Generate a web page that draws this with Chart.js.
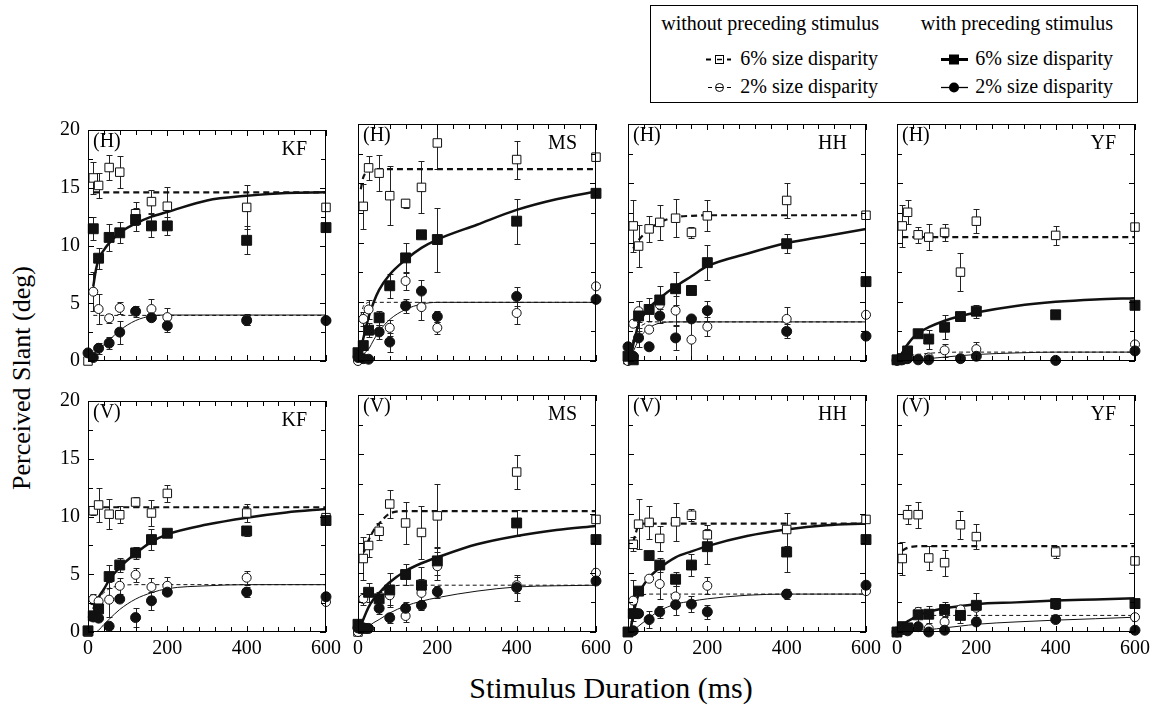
<!DOCTYPE html>
<html><head><meta charset="utf-8">
<script src="https://cdn.jsdelivr.net/npm/chart.js@4.4.1/dist/chart.umd.min.js"></script>
<style>
html,body{margin:0;padding:0;background:#fff;}
body{position:relative;width:1153px;height:706px;overflow:hidden;font-family:"Liberation Serif","Times New Roman",serif;color:#000;}
.t{position:absolute;white-space:nowrap;font-size:20px;line-height:20px;}
canvas{position:absolute;}
</style></head>
<body>
<div style="position:absolute;left:650px;top:5px;width:486px;height:96px;border:1px solid #000;"></div>
<div class="t" style="right:274px;top:13px;">without preceding stimulus</div>
<div class="t" style="right:40px;top:13px;">with preceding stimulus</div>
<div class="t" style="right:275px;top:48px;">6% size disparity</div>
<div class="t" style="right:40px;top:48px;">6% size disparity</div>
<div class="t" style="right:275px;top:76px;">2% size disparity</div>
<div class="t" style="right:40px;top:76px;">2% size disparity</div>
<svg style="position:absolute;left:0;top:0" width="1153" height="110">
  <g stroke="#000" fill="none">
    <line x1="706" y1="59.5" x2="711" y2="59.5" stroke-width="2"/>
    <rect x="715.5" y="55.5" width="8" height="8" stroke-width="1" fill="#fff"/>
    <line x1="717" y1="59.5" x2="722" y2="59.5" stroke-width="1.5"/>
    <line x1="727" y1="59.5" x2="731" y2="59.5" stroke-width="2"/>
    <line x1="708" y1="87.5" x2="712" y2="87.5" stroke-width="1"/>
    <circle cx="719.5" cy="87.5" r="4" stroke-width="1" fill="#fff"/>
    <line x1="716" y1="87.5" x2="723" y2="87.5" stroke-width="1"/>
    <line x1="727" y1="87.5" x2="731" y2="87.5" stroke-width="1"/>
    <line x1="941" y1="59.5" x2="968" y2="59.5" stroke-width="3"/>
    <rect x="949" y="54.5" width="10" height="10" fill="#000" stroke="none"/>
    <line x1="941" y1="87.5" x2="968" y2="87.5" stroke-width="1.3"/>
    <circle cx="954" cy="87.5" r="5" fill="#000" stroke="none"/>
  </g>
</svg>
<div class="t" style="font-size:30px;line-height:30px;left:411px;width:400px;text-align:center;top:673px;">Stimulus Duration (ms)</div>
<div class="t" style="font-size:26px;line-height:26px;left:-128px;width:300px;text-align:center;top:365px;transform:rotate(-90deg);transform-origin:50% 50%;">Perceived Slant (deg)</div>

<script>
// ---------- data ----------
const durations = [0, 13.3, 26.7, 53.3, 80, 120, 160, 200, 400, 600];
const fitDurations = [0, 7, 13.3, 20, 26.7, 40, 53.3, 80, 120, 160, 200, 300, 400, 500, 600];
const xTicks = [0, 200, 400, 600];
const yTicks = [0, 5, 10, 15, 20];
const subjects = ['KF', 'MS', 'HH', 'YF'];
const orientations = ['(H)', '(V)'];

// (H) KF
const H_KF_sqOpen = [0, 15.85, 15.2, 16.75, 16.35, 12.75, 13.8, 13.4, 13.3, 13.3];
const H_KF_sqOpenErr = [0, 1.4, 1.1, 1.1, 1.4, 1.0, 1.0, 1.7, 1.9, 0.3];
const H_KF_ciOpen = [null, 6.0, 4.5, 3.7, 4.6, null, 4.5, 3.8, 3.6, 3.5];
const H_KF_ciOpenErr = [0, 1.7, 1.3, 0.4, 0.5, 0, 0.9, 0.8, 0.5, 0];
const H_KF_sqFill = [null, 11.45, 8.9, 10.7, 11.1, 12.25, 11.7, 11.7, 10.45, 11.55];
const H_KF_sqFillErr = [0, 1.0, 0.9, 1.2, 0.9, 1.0, 1.0, 0.8, 1.2, 0];
const H_KF_ciFill = [0.7, 0.3, 1.1, 1.55, 2.5, 4.3, 3.75, 3.05, 3.5, 3.5];
const H_KF_ciFillErr = [0, 0, 0.5, 0.55, 1.0, 0.5, 0, 0.5, 0.4, 0];
const H_KF_fitSqOpen = [null, null, 14.6, 14.6, 14.6, 14.6, 14.6, 14.6, 14.6, 14.6, 14.6, 14.6, 14.6, 14.6, 14.6];
const H_KF_fitCiOpen = [null, null, 3.95, 3.95, 3.95, 3.95, 3.95, 3.95, 3.95, 3.95, 3.95, 3.95, 3.95, 3.95, 3.95];
const H_KF_fitSqFill = [null, null, 6.45, 7.9, 8.8, 9.6, 10.2, 11.1, 11.9, 12.5, 12.9, 13.9, 14.3, 14.55, 14.6];
const H_KF_fitCiFill = [0.2, 0.4, 0.6, 0.8, 1.0, 1.4, 1.8, 2.65, 3.5, 3.9, 3.98, 3.98, 3.98, 3.98, 3.98];

// (H) MS
const H_MS_sqOpen = [null, 13.05, 16.3, 15.85, 13.95, 13.3, 14.65, 18.4, 17.0, 17.2];
const H_MS_sqOpenErr = [0, 1.9, 1.0, 1.5, 2.5, 0.4, 2.2, 2.2, 1.6, 0];
const H_MS_ciOpen = [0, 3.55, 4.35, null, 2.8, 6.75, 4.55, 2.8, 4.05, 6.3];
const H_MS_ciOpenErr = [0, 0.6, 0.8, 0, 0.7, 0.8, 1.1, 0.5, 0.9, 0];
const H_MS_sqFill = [0.7, 1.3, 2.6, 3.65, 6.35, 8.7, 10.65, 10.25, 11.8, 14.15];
const H_MS_sqFillErr = [0, 0.4, 0.6, 0.6, 1.0, 1.25, 0, 2.7, 1.9, 0];
const H_MS_ciFill = [0.3, 0.2, 0.15, 2.45, 1.6, 4.65, 5.9, 3.75, 5.45, 5.2];
const H_MS_ciFillErr = [0, 0, 0, 0.6, 0.8, 0.6, 0.9, 0.5, 0.8, 0];
const H_MS_fitSqOpen = [null, 14.5, 15.5, 15.9, 16.15, 16.2, 16.2, 16.2, 16.2, 16.2, 16.2, 16.2, 16.2, 16.2, 16.2];
const H_MS_fitCiOpen = [null, 3.8, 4.6, 4.85, 4.95, 4.95, 4.95, 4.95, 4.95, 4.95, 4.95, 4.95, 4.95, 4.95, 4.95];
const H_MS_fitSqFill = [0, 1.0, 1.9, 2.8, 3.7, 5.0, 6.0, 7.3, 8.55, 9.55, 10.25, 11.5, 12.75, 13.65, 14.3];
const H_MS_fitCiFill = [0, 0.2, 0.5, 0.8, 1.0, 1.8, 2.5, 3.5, 4.35, 4.8, 4.95, 4.95, 4.95, 4.95, 4.95];

// (H) HH
const H_HH_sqOpen = [0.1, 11.4, 9.7, 11.15, 11.7, 12.05, 10.85, 12.25, 13.55, 12.3];
const H_HH_sqOpenErr = [0, 2.2, 1.8, 1.1, 1.5, 1.6, 0.5, 1.3, 1.5, 0];
const H_HH_ciOpen = [0, 3.15, 4.2, 2.65, 4.75, 4.25, 1.8, 2.9, 3.55, 3.9];
const H_HH_ciOpenErr = [0, 0, 0.9, 0, 0.6, 1.2, 1.8, 0.8, 1.0, 0];
const H_HH_sqFill = [0.4, 0.1, 3.8, 4.35, 5.15, 6.1, 5.95, 8.3, 9.9, 6.7];
const H_HH_sqFillErr = [0, 0, 1.3, 1.0, 1.2, 1.4, 0, 1.5, 0.8, 0];
const H_HH_ciFill = [1.2, 0.4, 1.95, 1.2, 3.8, 1.95, 3.55, 4.25, 2.5, 2.1];
const H_HH_ciFillErr = [0, 0, 0.8, 0, 0.6, 1.0, 0, 0.85, 0.6, 0];
const H_HH_fitSqOpen = [null, null, 9.5, 9.9, 10.2, 10.7, 11.1, 11.7, 12.15, 12.25, 12.3, 12.3, 12.3, 12.3, 12.3];
const H_HH_fitCiOpen = [null, 0.9, 1.9, 2.4, 2.8, 3.1, 3.3, 3.3, 3.3, 3.3, 3.3, 3.3, 3.3, 3.3, 3.3];
const H_HH_fitSqFill = [null, 0.1, 1.4, 2.3, 3.2, 3.9, 4.5, 5.3, 6.3, 7.15, 8.0, 9.05, 9.95, 10.55, 11.15];
const H_HH_fitCiFill = [0, 0.3, 0.8, 1.3, 1.8, 2.4, 2.8, 3.2, 3.3, 3.3, 3.3, 3.3, 3.3, 3.3, 3.3];

// (H) YF
const H_YF_sqOpen = [0.1, 11.4, 12.55, 10.65, 10.45, 10.85, 7.5, 11.8, 10.6, 11.3];
const H_YF_sqOpenErr = [0, 1.8, 1.0, 0.7, 1.1, 0.7, 1.6, 1.0, 0.8, 0];
const H_YF_ciOpen = [0.05, 0.2, 0.3, 0.2, 0.3, 0.9, null, 1.0, null, 1.4];
const H_YF_ciOpenErr = [0, 0, 0, 0, 0, 0.55, 0, 0.6, 0, 0];
const H_YF_sqFill = [0.1, 0.2, 0.85, 2.3, 1.85, 2.85, 3.75, 4.2, 3.9, 4.7];
const H_YF_sqFillErr = [0, 0, 0, 0, 0.8, 1.0, 0, 0.55, 0, 0];
const H_YF_ciFill = [0.05, 0.1, 0.2, 0.1, 0.1, null, 0.2, 0.4, 0.05, 0.85];
const H_YF_ciFillErr = [0, 0, 0, 0, 0, 0, 0, 0, 0, 0];
const H_YF_fitSqOpen = [null, null, 10.45, 10.45, 10.45, 10.45, 10.45, 10.45, 10.45, 10.45, 10.45, 10.45, 10.45, 10.45, 10.45];
const H_YF_fitCiOpen = [0.1, 0.15, 0.25, 0.3, 0.4, 0.5, 0.55, 0.65, 0.72, 0.75, 0.75, 0.75, 0.75, 0.75, 0.75];
const H_YF_fitSqFill = [0, 0.35, 0.7, 1.1, 1.4, 1.95, 2.35, 2.85, 3.4, 3.8, 4.1, 4.65, 5.0, 5.2, 5.3];
const H_YF_fitCiFill = [0, 0.02, 0.03, 0.05, 0.07, 0.1, 0.13, 0.2, 0.33, 0.45, 0.55, 0.68, 0.75, 0.75, 0.75];

// (V) KF
const V_KF_sqOpen = [0, 10.5, 11.0, 10.2, 10.15, 11.25, 10.3, 12.0, 10.3, 9.9];
const V_KF_sqOpenErr = [0, 0.35, 1.5, 1.3, 0.75, 0.4, 1.1, 0.75, 0.8, 0];
const V_KF_ciOpen = [null, 2.85, 2.65, 2.8, 4.0, 4.95, 3.9, 4.0, 4.7, 2.6];
const V_KF_ciOpenErr = [0, 0.4, 0, 1.5, 0.7, 0.6, 0.8, 0.8, 0.6, 0];
const V_KF_sqFill = [0.1, 1.4, 2.0, 4.8, 5.8, 6.85, 8.0, 8.55, 8.75, 9.65];
const V_KF_sqFillErr = [0, 0.4, 0.7, 1.0, 0.6, 0.55, 0.9, 0.35, 0.4, 0];
const V_KF_ciFill = [null, 1.3, 1.2, 0.5, 2.85, 1.25, 2.7, 3.45, 3.45, 3.05];
const V_KF_ciFillErr = [0, 0, 0, 0, 0, 0.8, 0.8, 0, 0.45, 0];
const V_KF_fitSqOpen = [null, null, 10.8, 10.8, 10.8, 10.8, 10.8, 10.8, 10.8, 10.8, 10.8, 10.8, 10.8, 10.8, 10.8];
const V_KF_fitCiOpen = [null, null, 2.3, 2.65, 2.95, 3.4, 3.75, 4.0, 4.1, 4.1, 4.1, 4.1, 4.1, 4.1, 4.1];
const V_KF_fitSqFill = [null, null, 2.0, 2.5, 3.0, 3.7, 4.5, 5.6, 6.8, 7.8, 8.45, 9.3, 9.9, 10.35, 10.65];
const V_KF_fitCiFill = [null, null, null, 0, 0.15, 0.65, 1.1, 1.95, 2.85, 3.4, 3.75, 4.0, 4.1, 4.1, 4.1];

// (V) MS
const V_MS_sqOpen = [0, 6.2, 7.3, 8.5, 10.8, 9.2, 8.4, 9.8, 13.5, 9.5];
const V_MS_sqOpenErr = [0, 1.8, 1.0, 0.7, 1.2, 1.8, 2.2, 2.7, 1.45, 0];
const V_MS_ciOpen = [0, 2.8, null, null, 3.1, 1.35, 3.3, 5.55, 3.95, 5.0];
const V_MS_ciOpenErr = [0, 0.5, 0, 0, 0.8, 0.5, 1.2, 1.2, 0.7, 0.4];
const V_MS_sqFill = [0.65, 0.3, 3.35, 2.8, 3.55, 4.85, 3.95, 6.0, 9.2, 7.8];
const V_MS_sqFillErr = [0, 0, 0.8, 0.6, 1.4, 0.85, 1.5, 1.2, 1.1, 0];
const V_MS_ciFill = [0.35, 0.35, 0.3, 2.0, 1.2, 2.0, 2.25, 3.4, 3.75, 4.3];
const V_MS_ciFillErr = [0, 0, 0, 0.5, 0.4, 0.5, 0.4, 0.5, 1.1, 0];
const V_MS_fitSqOpen = [null, 5.9, 6.6, 7.2, 7.75, 8.6, 9.15, 10.0, 10.2, 10.2, 10.2, 10.2, 10.2, 10.2, 10.2];
const V_MS_fitCiOpen = [0, 0.6, 1.1, 1.6, 2.1, 2.8, 3.25, 3.8, 3.95, 3.95, 3.95, 3.95, 3.95, 3.95, 3.95];
const V_MS_fitSqFill = [0, 0.5, 1.05, 1.6, 2.1, 2.8, 3.3, 4.2, 5.15, 5.8, 6.3, 7.4, 8.1, 8.6, 8.95];
const V_MS_fitCiFill = [0, 0.15, 0.3, 0.4, 0.5, 0.8, 1.05, 1.6, 2.2, 2.6, 2.9, 3.45, 3.8, 3.9, 3.95];

// (V) HH
const V_HH_sqOpen = [0, 7.4, 9.1, 9.25, 7.9, 9.3, 9.85, 8.2, 8.65, 9.5];
const V_HH_sqOpenErr = [0, 0.6, 2.1, 1.4, 1.05, 1.6, 0.5, 0.8, 1.4, 0];
const V_HH_ciOpen = [null, 2.65, null, 4.5, 4.05, 3.0, null, 3.9, 3.2, 3.45];
const V_HH_ciOpenErr = [0, 1.7, 0, 0, 1.3, 0.9, 0, 0.7, 0, 0];
const V_HH_sqFill = [0, 1.55, 3.45, 6.45, 5.65, 4.45, 5.65, 7.2, 6.75, 7.8];
const V_HH_sqFillErr = [0, 0.4, 0, 0, 0.6, 0.6, 0.9, 1.5, 1.7, 0];
const V_HH_ciFill = [null, 0.1, 1.55, 1.05, 1.7, 2.3, 2.35, 1.7, 3.2, 3.95];
const V_HH_ciFillErr = [0, 0, 0, 0.7, 0.5, 0.9, 0.7, 0.6, 0.4, 0];
const V_HH_fitSqOpen = [null, null, 7.6, 8.4, 9.0, 9.15, 9.15, 9.15, 9.15, 9.15, 9.15, 9.15, 9.15, 9.15, 9.15];
const V_HH_fitCiOpen = [null, 0.5, 2.0, 2.6, 3.0, 3.15, 3.2, 3.2, 3.2, 3.2, 3.2, 3.2, 3.2, 3.2, 3.2];
const V_HH_fitSqFill = [null, 0.2, 1.5, 2.4, 3.2, 4.0, 4.6, 5.4, 6.3, 6.8, 7.25, 8.1, 8.65, 9.0, 9.15];
const V_HH_fitCiFill = [null, null, 0.1, 0.3, 0.5, 0.85, 1.2, 1.8, 2.35, 2.6, 2.8, 3.1, 3.2, 3.2, 3.2];

// (V) YF
const V_YF_sqOpen = [0, 6.2, 9.9, 9.9, 6.25, 5.85, 9.05, 8.05, 6.75, 6.0];
const V_YF_sqOpenErr = [0, 1.4, 0.8, 1.1, 1.0, 1.1, 1.2, 1.05, 0.5, 0];
const V_YF_ciOpen = [null, 0.2, 0.15, 1.7, 0.3, 0.85, 1.9, 2.05, null, 1.25];
const V_YF_ciOpenErr = [0, 0, 0, 0, 0, 0.5, 0, 0, 0, 0.3];
const V_YF_sqFill = [0, 0.45, 0.35, 1.45, 1.5, 1.9, 1.4, 2.25, 2.4, 2.4];
const V_YF_sqFillErr = [0, 0.3, 0, 0.7, 0.7, 0.6, 0.6, 1.0, 0.5, 0];
const V_YF_ciFill = [0, 0.2, 0.1, 0.45, 0, 0.15, null, 0.85, 1.05, 0.15];
const V_YF_ciFillErr = [0, 0, 0, 0, 0, 0, 0, 0, 0, 0];
const V_YF_fitSqOpen = [null, null, 6.85, 7.0, 7.1, 7.2, 7.25, 7.25, 7.25, 7.25, 7.25, 7.25, 7.25, 7.25, 7.25];
const V_YF_fitCiOpen = [null, null, 0.25, 0.55, 0.8, 1.15, 1.35, 1.4, 1.4, 1.4, 1.4, 1.4, 1.4, 1.4, 1.4];
const V_YF_fitSqFill = [0, 0.25, 0.5, 0.7, 0.9, 1.15, 1.4, 1.7, 2.0, 2.2, 2.35, 2.5, 2.65, 2.75, 2.85];
const V_YF_fitCiFill = [0, 0.02, 0.04, 0.06, 0.08, 0.12, 0.15, 0.2, 0.35, 0.5, 0.65, 0.85, 1.0, 1.12, 1.25];

// ---------- panel table built from the arrays ----------
const panelTable = [
  [H_KF_sqOpen,H_KF_sqOpenErr,H_KF_ciOpen,H_KF_ciOpenErr,H_KF_sqFill,H_KF_sqFillErr,H_KF_ciFill,H_KF_ciFillErr,H_KF_fitSqOpen,H_KF_fitCiOpen,H_KF_fitSqFill,H_KF_fitCiFill],
  [H_MS_sqOpen,H_MS_sqOpenErr,H_MS_ciOpen,H_MS_ciOpenErr,H_MS_sqFill,H_MS_sqFillErr,H_MS_ciFill,H_MS_ciFillErr,H_MS_fitSqOpen,H_MS_fitCiOpen,H_MS_fitSqFill,H_MS_fitCiFill],
  [H_HH_sqOpen,H_HH_sqOpenErr,H_HH_ciOpen,H_HH_ciOpenErr,H_HH_sqFill,H_HH_sqFillErr,H_HH_ciFill,H_HH_ciFillErr,H_HH_fitSqOpen,H_HH_fitCiOpen,H_HH_fitSqFill,H_HH_fitCiFill],
  [H_YF_sqOpen,H_YF_sqOpenErr,H_YF_ciOpen,H_YF_ciOpenErr,H_YF_sqFill,H_YF_sqFillErr,H_YF_ciFill,H_YF_ciFillErr,H_YF_fitSqOpen,H_YF_fitCiOpen,H_YF_fitSqFill,H_YF_fitCiFill],
  [V_KF_sqOpen,V_KF_sqOpenErr,V_KF_ciOpen,V_KF_ciOpenErr,V_KF_sqFill,V_KF_sqFillErr,V_KF_ciFill,V_KF_ciFillErr,V_KF_fitSqOpen,V_KF_fitCiOpen,V_KF_fitSqFill,V_KF_fitCiFill],
  [V_MS_sqOpen,V_MS_sqOpenErr,V_MS_ciOpen,V_MS_ciOpenErr,V_MS_sqFill,V_MS_sqFillErr,V_MS_ciFill,V_MS_ciFillErr,V_MS_fitSqOpen,V_MS_fitCiOpen,V_MS_fitSqFill,V_MS_fitCiFill],
  [V_HH_sqOpen,V_HH_sqOpenErr,V_HH_ciOpen,V_HH_ciOpenErr,V_HH_sqFill,V_HH_sqFillErr,V_HH_ciFill,V_HH_ciFillErr,V_HH_fitSqOpen,V_HH_fitCiOpen,V_HH_fitSqFill,V_HH_fitCiFill],
  [V_YF_sqOpen,V_YF_sqOpenErr,V_YF_ciOpen,V_YF_ciOpenErr,V_YF_sqFill,V_YF_sqFillErr,V_YF_ciFill,V_YF_ciFillErr,V_YF_fitSqOpen,V_YF_fitCiOpen,V_YF_fitSqFill,V_YF_fitCiFill]
];

// ---------- layout ----------
const PANEL_W = 238, PANEL_H = 237;
const colLeft = [88, 358, 628, 897];
const rowTop = [124, 395];
const PAD_L = 50, PAD_T = 14, PAD_R = 28, PAD_B = 36;
const FONT = '"Liberation Serif", "Times New Roman", serif';
const INK = '#111';
Chart.defaults.font.family = FONT;
Chart.defaults.color = '#000';

const pts = (xs, ys) => xs.map((x, i) => ({x: x, y: ys[i] == null ? null : ys[i]}));

const deco = {
  id: 'deco',
  beforeDatasetsDraw(chart) {
    const {ctx, chartArea: a, scales: {x, y}} = chart;
    ctx.save();
    ctx.beginPath(); ctx.rect(a.left, a.top, a.right - a.left, a.bottom - a.top); ctx.clip();
    ctx.strokeStyle = '#222'; ctx.lineWidth = 1;
    chart.data.datasets.forEach(ds => {
      if (!ds.errors) return;
      ds.data.forEach((p, i) => {
        const e = ds.errors[i];
        if (p.y == null || !e) return;
        const px = Math.round(x.getPixelForValue(p.x)) + 0.5;
        const y1 = Math.round(y.getPixelForValue(p.y - e)) + 0.5;
        const y2 = Math.round(y.getPixelForValue(p.y + e)) + 0.5;
        ctx.beginPath();
        ctx.moveTo(px, y1); ctx.lineTo(px, y2);
        ctx.moveTo(px - 3, y1); ctx.lineTo(px + 3, y1);
        ctx.moveTo(px - 3, y2); ctx.lineTo(px + 3, y2);
        ctx.stroke();
      });
    });
    ctx.restore();
  },
  afterDraw(chart) {
    const {ctx, chartArea: a, scales: {x, y}} = chart;
    const o = chart.options.plugins.deco;
    ctx.save();
    ctx.strokeStyle = '#000'; ctx.lineWidth = 1;
    ctx.strokeRect(a.left + 0.5, a.top + 0.5, a.right - a.left - 1, a.bottom - a.top - 1);
    ctx.beginPath();
    for (let v = 0; v <= 600; v += 40) {
      const px = Math.round(x.getPixelForValue(v)) + 0.5;
      const len = v % 200 === 0 ? 6 : 5;
      ctx.moveTo(px, a.bottom); ctx.lineTo(px, a.bottom - len);
      ctx.moveTo(px, a.top); ctx.lineTo(px, a.top + len);
    }
    for (let v = 0; v <= 20; v += 2.5) {
      const py = Math.round(y.getPixelForValue(v)) + 0.5;
      const len = v % 5 === 0 ? 6 : 5;
      ctx.moveTo(a.left, py); ctx.lineTo(a.left + len, py);
      ctx.moveTo(a.right, py); ctx.lineTo(a.right - len, py);
    }
    ctx.stroke();
    ctx.fillStyle = '#000';
    ctx.font = '20px ' + FONT;
    ctx.textBaseline = 'middle';
    ctx.textAlign = 'left';
    ctx.fillText(o.tag, a.left + 5, a.top + 12);
    ctx.textAlign = 'right';
    ctx.fillText(o.subject, a.right - 19, a.top + 20);
    ctx.restore();
  }
};

function makePanel(row, col) {
  const d = panelTable[row * 4 + col];
  const W = PAD_L + PANEL_W + PAD_R, H = PAD_T + PANEL_H + PAD_B;
  const canvas = document.createElement('canvas');
  canvas.width = W; canvas.height = H;
  canvas.style.left = (colLeft[col] - PAD_L) + 'px';
  canvas.style.top = (rowTop[row] - PAD_T) + 'px';
  canvas.style.width = W + 'px'; canvas.style.height = H + 'px';
  document.body.appendChild(canvas);

  const fitLine = (vals, width, dash) => ({
    data: pts(fitDurations, vals), showLine: true, pointRadius: 0, borderColor: INK,
    borderWidth: width, borderDash: dash, cubicInterpolationMode: 'monotone', spanGaps: false, order: 3
  });
  const marks = (vals, errs, style, r, filled, order) => ({
    data: pts(durations, vals), errors: errs, showLine: false, pointStyle: style, pointRadius: r,
    backgroundColor: filled ? INK : '#fff', borderColor: INK, borderWidth: 1, order: order, clip: false
  });
  const tickFont = {family: FONT, size: 20};

  new Chart(canvas, {
    type: 'scatter',
    data: {datasets: [
      marks(d[6], d[7], 'circle', 5, true, 0),
      marks(d[4], d[5], 'rect', 7, true, 0),
      marks(d[2], d[3], 'circle', 4.5, false, 1),
      marks(d[0], d[1], 'rect', 6, false, 1),
      fitLine(d[11], 1, []),
      fitLine(d[10], 2.5, []),
      fitLine(d[9], 1, [4, 3]),
      fitLine(d[8], 2.2, [6, 4])
    ]},
    options: {
      responsive: false, animation: false, events: [],
      layout: {padding: {left: 0, top: PAD_T, right: PAD_R, bottom: 0}},
      plugins: {legend: {display: false}, tooltip: {enabled: false},
                deco: {tag: orientations[row], subject: subjects[col]}},
      scales: {
        x: {type: 'linear', min: 0, max: 600,
            afterFit(s) { s.height = PAD_B; },
            afterBuildTicks(s) { s.ticks = xTicks.map(v => ({value: v})); },
            ticks: {display: row === 1, font: tickFont, color: '#000', padding: 5, maxRotation: 0, autoSkip: false},
            grid: {display: false, drawTicks: false}, border: {display: false}},
        y: {type: 'linear', min: 0, max: 20,
            afterFit(s) { s.width = PAD_L; },
            afterBuildTicks(s) { s.ticks = yTicks.map(v => ({value: v})); },
            ticks: {display: col === 0, font: tickFont, color: '#000', padding: 8, autoSkip: false},
            grid: {display: false, drawTicks: false}, border: {display: false}}
      }
    },
    plugins: [deco]
  });
}

for (let r = 0; r < 2; r++) for (let c = 0; c < 4; c++) makePanel(r, c);
</script>
</body></html>
